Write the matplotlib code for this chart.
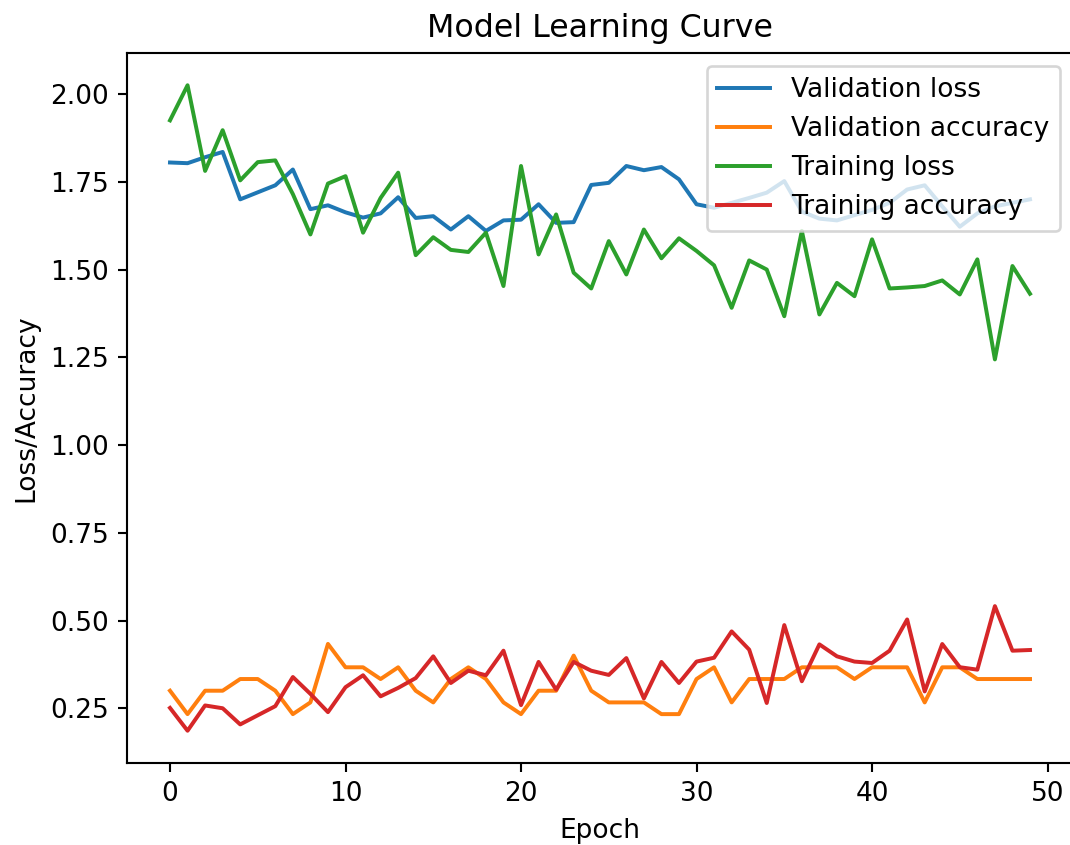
import matplotlib
matplotlib.use("Agg")
import matplotlib.pyplot as plt

epochs = list(range(50))

val_loss = [1.805, 1.803, 1.820, 1.835, 1.700, 1.720, 1.740, 1.785, 1.672, 1.683,
            1.663, 1.648, 1.660, 1.706, 1.647, 1.652, 1.614, 1.652, 1.610, 1.640,
            1.642, 1.686, 1.633, 1.635, 1.741, 1.747, 1.795, 1.783, 1.792, 1.757,
            1.686, 1.676, 1.690, 1.704, 1.719, 1.752, 1.665, 1.645, 1.640, 1.655,
            1.670, 1.690, 1.728, 1.740, 1.680, 1.622, 1.660, 1.680, 1.690, 1.700]

val_acc = [0.3, 0.2333, 0.3, 0.3, 0.3333, 0.3333, 0.3, 0.2333, 0.2667, 0.4333,
           0.3667, 0.3667, 0.3333, 0.3667, 0.3, 0.2667, 0.3333, 0.3667, 0.3333, 0.2667,
           0.2333, 0.3, 0.3, 0.4, 0.3, 0.2667, 0.2667, 0.2667, 0.2333, 0.2333,
           0.3333, 0.3667, 0.2667, 0.3333, 0.3333, 0.3333, 0.3667, 0.3667, 0.3667, 0.3333,
           0.3667, 0.3667, 0.3667, 0.2667, 0.3667, 0.3667, 0.3333, 0.3333, 0.3333, 0.3333]

train_loss = [1.925, 2.025, 1.781, 1.897, 1.754, 1.806, 1.811, 1.715, 1.600, 1.745,
              1.766, 1.605, 1.704, 1.776, 1.541, 1.592, 1.556, 1.550, 1.605, 1.453,
              1.795, 1.543, 1.657, 1.491, 1.446, 1.581, 1.486, 1.614, 1.532, 1.589,
              1.553, 1.512, 1.391, 1.526, 1.500, 1.367, 1.610, 1.372, 1.462, 1.424,
              1.586, 1.446, 1.449, 1.453, 1.469, 1.429, 1.529, 1.244, 1.510, 1.431]

train_acc = [0.251, 0.186, 0.258, 0.250, 0.204, 0.230, 0.256, 0.339, 0.291, 0.239,
             0.310, 0.344, 0.284, 0.308, 0.336, 0.398, 0.322, 0.357, 0.344, 0.414,
             0.259, 0.382, 0.303, 0.382, 0.357, 0.345, 0.393, 0.278, 0.382, 0.322,
             0.383, 0.394, 0.469, 0.417, 0.265, 0.487, 0.327, 0.432, 0.398, 0.383,
             0.379, 0.414, 0.503, 0.298, 0.433, 0.367, 0.360, 0.541, 0.414, 0.416]

DPI = 190
fig = plt.figure(figsize=(1070 / DPI, 845 / DPI), dpi=DPI)
ax = fig.add_axes([127 / 1070, 1 - 763 / 845, (1073 - 127) / 1070, 710 / 845])

ax.plot(epochs, val_loss, label="Validation loss")
ax.plot(epochs, val_acc, label="Validation accuracy")
ax.plot(epochs, train_loss, label="Training loss")
ax.plot(epochs, train_acc, label="Training accuracy")

ax.set_title("Model Learning Curve")
ax.set_xlabel("Epoch")
ax.set_ylabel("Loss/Accuracy")
ax.legend(loc="upper right")

fig.savefig("out.png", dpi=DPI)
